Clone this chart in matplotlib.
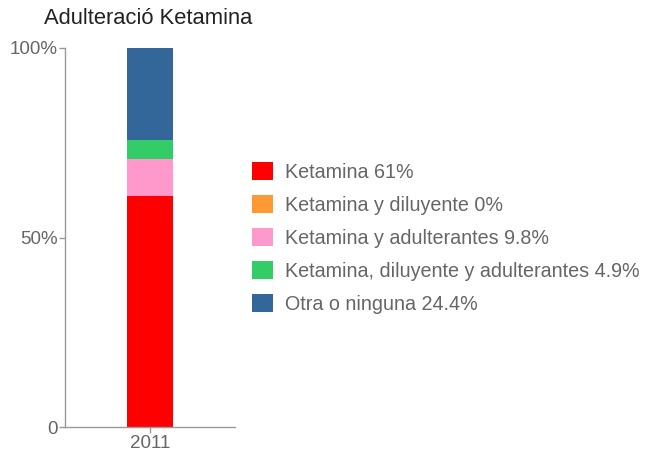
import matplotlib
matplotlib.use("Agg")
import matplotlib.pyplot as plt
from matplotlib.patches import Patch

plt.rcParams['font.family'] = ['Liberation Sans', 'DejaVu Sans']

title = "Adulteració Ketamina"
years = ["2011"]
series = ["Ketamina 61%", "Ketamina y diluyente 0%", "Ketamina y adulterantes 9.8%",
          "Ketamina, diluyente y adulterantes 4.9%", "Otra o ninguna 24.4%"]
values = [61.0, 0.0, 9.8, 4.9, 24.4]
colors = ["#ff0000", "#ff9933", "#ff99cc", "#33cc66", "#336699"]
yticks = [0, 0.5, 1.0]
ytick_labels = ["0", "50%", "100%"]

fig = plt.figure(figsize=(6.53, 4.55), dpi=100)
ax = fig.add_axes([65/653, 1-427/455, 170/653, 379/455])

bottom = 0.0
for v, c in zip(values, colors):
    ax.bar([0], [v/100], bottom=bottom, width=1.0, color=c, linewidth=0)
    bottom += v/100

ax.set_xlim(-1.85, 1.85)
ax.set_ylim(0, 1)
ax.set_xticks([0])
ax.set_xticklabels(years)
ax.set_yticks(yticks)
ax.set_yticklabels(ytick_labels)
for s in ["top", "right"]:
    ax.spines[s].set_visible(False)
for s in ["left", "bottom"]:
    ax.spines[s].set_color("#999999")
    ax.spines[s].set_linewidth(1.0)
ax.tick_params(axis="both", colors="#999999", labelcolor="#666666", labelsize=13.5, length=4, width=1)
ax.tick_params(axis="y", pad=1.5)
ax.tick_params(axis="x", pad=2)

fig.text(44/653, 1-19/455, title, fontsize=15.8, color="#222222", va="center", ha="left")

handles = [Patch(facecolor=c, edgecolor="none") for c in colors]
leg = fig.legend(handles, series, loc="upper left", bbox_to_anchor=(252/653, 1-162/455),
                 frameon=False, fontsize=14.2, handlelength=1.06, handleheight=1.06,
                 labelspacing=0.66, handletextpad=0.62, borderaxespad=0, borderpad=0)
for t in leg.get_texts():
    t.set_color("#666666")

fig.savefig("out.png", dpi=100)
